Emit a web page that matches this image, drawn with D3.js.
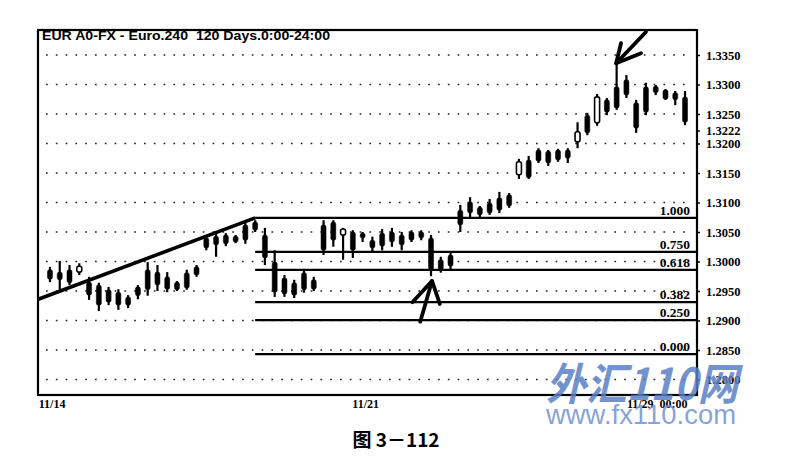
<!DOCTYPE html>
<html><head><meta charset="utf-8">
<script src="https://cdn.jsdelivr.net/npm/d3@7/dist/d3.min.js"></script>
<style>
html,body{margin:0;padding:0;background:#fff;}
svg{display:block;}
</style></head>
<body>
<svg id="c" width="794" height="476"></svg>
<script>
// ---- data (4-hour candles, EUR) ----
const opens  = [1.2986,1.2982,1.2986,1.2982,1.2965,1.2960,1.2952,1.2948,1.2940,1.2957,
                1.2986,1.2982,1.2974,1.2965,1.2981,1.2991,1.3040,1.3043,1.3045,1.3043,
                1.3062,1.3067,1.3045,1.2999,1.2972,1.2964,1.2981,1.2969,1.3062,1.3067,
                1.3045,1.3050,1.3048,1.3036,1.3048,1.3050,1.3045,1.3050,1.3050,1.3040,
                1.3003,1.3011,1.3087,1.3101,1.3092,1.3099,1.3108,1.3113,1.3147,1.3172,
                1.3189,1.3187,1.3189,1.3189,1.3203,1.3248,1.3235,1.3274,1.3296,1.3308,
                1.3269,1.3296,1.3297,1.3291,1.3286,1.3279];
const highs  = [1.2991,1.3001,1.2994,1.2997,1.2974,1.2964,1.2957,1.2953,1.2943,1.2960,
                1.2999,1.2994,1.2982,1.2967,1.2986,1.2994,1.3045,1.3050,1.3048,1.3045,
                1.3069,1.3070,1.3057,1.3019,1.2977,1.2969,1.2986,1.2974,1.3070,1.3070,
                1.3057,1.3053,1.3050,1.3042,1.3055,1.3057,1.3050,1.3053,1.3053,1.3045,
                1.3008,1.3016,1.3096,1.3109,1.3094,1.3106,1.3118,1.3116,1.3174,1.3179,
                1.3192,1.3189,1.3191,1.3192,1.3236,1.3252,1.3284,1.3277,1.3336,1.3316,
                1.3274,1.3303,1.3299,1.3292,1.3289,1.3289];
const lows   = [1.2965,1.2952,1.2960,1.2977,1.2935,1.2916,1.2926,1.2918,1.2921,1.2936,
                1.2942,1.2950,1.2948,1.2950,1.2952,1.2974,1.3019,1.3008,1.3026,1.3031,
                1.3030,1.3050,1.2994,1.2940,1.2940,1.2938,1.2947,1.2950,1.3011,1.3025,
                1.3003,1.3006,1.3033,1.3016,1.3019,1.3025,1.3019,1.3033,1.3036,1.2975,
                1.2981,1.2986,1.3050,1.3074,1.3074,1.3079,1.3082,1.3091,1.3140,1.3140,
                1.3167,1.3162,1.3169,1.3167,1.3192,1.3214,1.3230,1.3248,1.3257,1.3277,
                1.3218,1.3248,1.3282,1.3274,1.3265,1.3231];
const closes = [1.2970,1.2969,1.2964,1.2992,1.2943,1.2926,1.2931,1.2926,1.2926,1.2942,
                1.2952,1.2960,1.2953,1.2952,1.2955,1.2977,1.3023,1.3028,1.3030,1.3033,
                1.3036,1.3053,1.3006,1.2948,1.2945,1.2943,1.2952,1.2953,1.3019,1.3036,
                1.3055,1.3019,1.3040,1.3023,1.3026,1.3033,1.3028,1.3036,1.3040,1.2986,
                1.2986,1.2992,1.3062,1.3082,1.3079,1.3082,1.3087,1.3094,1.3169,1.3142,
                1.3170,1.3167,1.3172,1.3175,1.3220,1.3218,1.3279,1.3253,1.3260,1.3282,
                1.3226,1.3253,1.3286,1.3275,1.3274,1.3236];

const priceTicks = [1.3350,1.3300,1.3250,1.3222,1.3200,1.3150,1.3100,1.3050,1.3000,1.2950,1.2900,1.2850,1.2800];
const gridLevels = [1.3350,1.3300,1.3250,1.3200,1.3150,1.3100,1.3050,1.3000,1.2950,1.2900,1.2850,1.2800];
const dateLabels = ["11/14","11/21","11/29  00:00"];
const dateIdx    = [-1.2, 30.9, 59.0];

const fibRatios = [1, 0.75, 0.618, 0.382, 0.25, 0];
const fibLabels = ["1.000","0.750","0.618","0.382","0.250","0.000"];
const fibHigh = 1.3074, fibLow = 1.2843, fibStartIdx = 21;

const trendIdx   = [-1.2, 21];
const trendPrice = [1.2936, 1.3074];

// hand-drawn arrows: [tail, tip, barbA, barbB] as [index, price]
const arrowUp   = [[37.9,1.2898],[39.1,1.2967],[37.1,1.2931],[39.9,1.2928]];
const arrowDown = [[61.0,1.3389],[57.95,1.3336],[58.45,1.3370],[60.5,1.3353]];

const titleText = "EUR A0-FX - Euro.240  120 Days.0:00-24:00";
const captionText = "图 3－112";

// ---- drawing ----
const svg = d3.select("#c");
const L = 38, R = 697, T = 30, B = 395;
const x = d3.scaleLinear().domain([-1.226, 66.226]).range([L, R]);
const y = d3.scaleLinear().domain([1.2800, 1.3350]).range([379.5, 55]);
const serif = "Liberation Serif, DejaVu Serif, serif";

// dotted gridlines
svg.append("g").selectAll("line").data(gridLevels).join("line")
  .attr("x1", L + 8).attr("x2", R - 6)
  .attr("y1", d => y(d)).attr("y2", d => y(d))
  .attr("stroke", "#222").attr("stroke-width", 1.7)
  .attr("stroke-dasharray", "1.7 8.1");

// fib lines
const fibLevel = r => fibLow + r * (fibHigh - fibLow);
const fg = svg.append("g");
fg.selectAll("line").data(fibRatios).join("line")
  .attr("x1", x(fibStartIdx)).attr("x2", R)
  .attr("y1", d => y(fibLevel(d))).attr("y2", d => y(fibLevel(d)))
  .attr("stroke", "#000").attr("stroke-width", 2.2);
fg.selectAll("text").data(fibRatios).join("text")
  .attr("x", R - 7).attr("y", d => y(fibLevel(d)) - 3)
  .attr("text-anchor", "end")
  .attr("font-family", serif).attr("font-weight", "bold").attr("font-size", 13.5)
  .text((d, i) => fibLabels[i]);

// trendline
svg.append("path")
  .attr("d", d3.line()(trendIdx.map((d, i) => [x(d), y(trendPrice[i])])))
  .attr("stroke", "#000").attr("stroke-width", 3.6).attr("fill", "none");

// candles
const cg = svg.append("g");
const bw = 5;
opens.forEach((o, i) => {
  const c = closes[i];
  const cx = x(i);
  cg.append("line").attr("x1", cx).attr("x2", cx)
    .attr("y1", y(highs[i])).attr("y2", y(lows[i]))
    .attr("stroke", "#000").attr("stroke-width", 2.2);
  const up = c > o;
  cg.append("rect")
    .attr("x", cx - bw / 2).attr("width", bw)
    .attr("y", y(Math.max(o, c))).attr("height", Math.max(1.5, Math.abs(y(o) - y(c))))
    .attr("rx", 2)
    .attr("fill", up ? "#fff" : "#000").attr("stroke", "#000").attr("stroke-width", up ? 1.6 : 0.5);
});

// arrows
[arrowUp, arrowDown].forEach(a => {
  const p = a.map(d => [x(d[0]), y(d[1])]);
  const g = svg.append("g").attr("stroke", "#000").attr("stroke-width", 3.8)
    .attr("stroke-linecap", "round").attr("fill", "none");
  g.append("line").attr("x1", p[0][0]).attr("y1", p[0][1]).attr("x2", p[1][0]).attr("y2", p[1][1]);
  g.append("path").attr("d", d3.line()([p[2], p[1], p[3]])).attr("stroke-linejoin", "round");
});

// frame
svg.append("rect").attr("x", L).attr("y", T).attr("width", R - L).attr("height", B - T)
  .attr("fill", "none").attr("stroke", "#000").attr("stroke-width", 2.2);

// right axis
const ya = svg.append("g").attr("transform", `translate(${R},0)`)
  .call(d3.axisRight(y).tickValues(priceTicks).tickFormat(d3.format(".4f")).tickSize(3).tickPadding(6));
ya.select(".domain").remove();
ya.selectAll("line").attr("stroke-width", 1.5);
ya.selectAll("text").attr("font-family", serif)
  .attr("font-weight", "bold").attr("font-size", 12.5).attr("fill", "#000");

// bottom axis
const xa = svg.append("g").attr("transform", `translate(0,${B})`)
  .call(d3.axisBottom(x).tickValues(dateIdx).tickFormat((d, i) => dateLabels[i]).tickSize(0).tickPadding(4));
xa.select(".domain").remove();
xa.selectAll("text").attr("text-anchor", "start").style("white-space", "pre")
  .attr("font-family", serif).attr("font-weight", "bold").attr("font-size", 12).attr("fill", "#000");

// title
svg.append("text").attr("x", 42).attr("y", 40)
  .attr("font-family", "Liberation Sans, Arial, sans-serif").attr("font-weight", "bold")
  .attr("font-size", 12).attr("textLength", 288).attr("lengthAdjust", "spacingAndGlyphs")
  .style("white-space", "pre").text(titleText);

// watermark
svg.append("text").attr("x", 546).attr("y", 400)
  .attr("font-family", "Noto Sans CJK SC, sans-serif").attr("font-weight", "bold")
  .attr("font-style", "italic").attr("font-size", 44)
  .attr("textLength", 192).attr("lengthAdjust", "spacingAndGlyphs")
  .attr("fill", "#5a80c6").attr("fill-opacity", 0.85).text("外汇110网");
svg.append("text").attr("x", 546).attr("y", 424)
  .attr("font-family", "Liberation Sans, Arial, sans-serif")
  .attr("font-size", 27).attr("textLength", 190).attr("lengthAdjust", "spacingAndGlyphs")
  .attr("fill", "#6f93cf").attr("fill-opacity", 0.85).text("www.fx110.com");

// caption
svg.append("text").attr("x", 396).attr("y", 447).attr("text-anchor", "middle")
  .attr("font-family", "Noto Sans CJK SC, sans-serif").attr("font-weight", "bold")
  .attr("font-size", 19).text(captionText);
</script>
</body></html>
